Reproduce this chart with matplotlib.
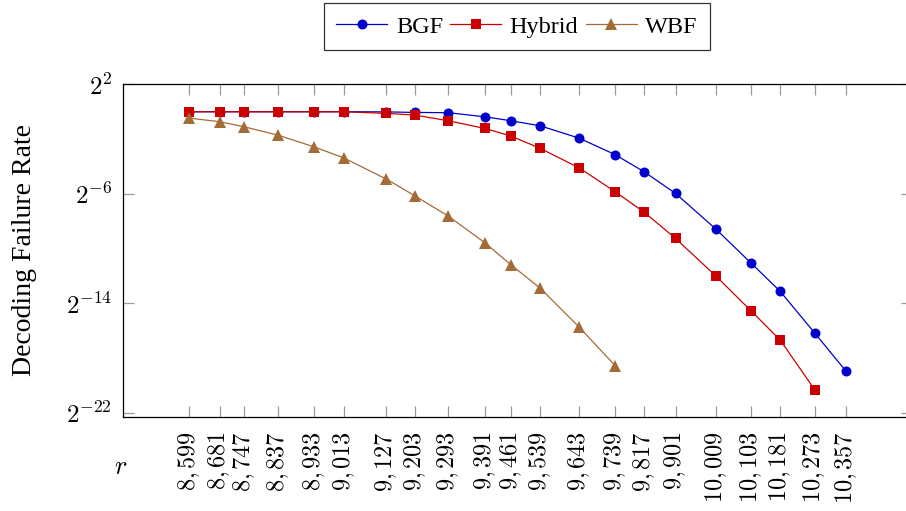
#!/usr/bin/env python3
"""
Decoding failure rate vs. r for BGF, Hybrid and WBF decoders.
Log2 y axis, rotated r tick labels, legend above the axes.

Output: out.png
"""

import numpy as np
import matplotlib
matplotlib.use("Agg")
import matplotlib.pyplot as plt


# r values (x ticks)
r_values = [8599, 8681, 8747, 8837, 8933, 9013, 9127, 9203, 9293, 9391, 9461,
            9539, 9643, 9739, 9817, 9901, 10009, 10103, 10181, 10273, 10357]

# log2 of the decoding failure rate
bgf_log2 = [0.0, 0.0, 0.0, 0.0, 0.0, 0.0, -0.01, -0.05, -0.07, -0.37, -0.66,
            -1.03, -1.93, -3.13, -4.39, -5.97, -8.58, -11.06, -13.13, -16.16, -18.96]
hybrid_log2 = [0.0, 0.0, 0.0, 0.0, 0.0, 0.0, -0.12, -0.24, -0.66, -1.22, -1.78,
               -2.68, -4.10, -5.84, -7.34, -9.26, -12.01, -14.55, -16.69, -20.30]
wbf_log2 = [-0.46, -0.73, -1.10, -1.71, -2.56, -3.37, -4.92, -6.14, -7.63, -9.58,
            -11.20, -12.90, -15.74, -18.55]

y_tick_exps = [2, -6, -14, -22]

BLUE = "#0000cc"
RED = "#cc0000"
BROWN = "#a36b35"
TICK_GRAY = "#9a9a9a"

plt.rcParams["mathtext.fontset"] = "cm"
SERIF = ["Liberation Serif", "DejaVu Serif"]

W, H = 906, 511
fig = plt.figure(figsize=(W / 100, H / 100), dpi=100, facecolor="white")

# axes box in pixels: left 123.3, right 911.7 (runs past the edge), top 83.7, bottom 417.3
ax_l, ax_r, ax_t, ax_b = 123.3, 911.7, 83.7, 417.3
ax = fig.add_axes([ax_l / W, 1 - ax_b / H, (ax_r - ax_l) / W, (ax_b - ax_t) / H])

n_h = len(hybrid_log2)
n_w = len(wbf_log2)

ax.plot(r_values, 2.0 ** np.array(bgf_log2), color=BLUE, lw=0.9,
        marker="o", markersize=7.2, markeredgewidth=0, label="BGF")
ax.plot(r_values[:n_h], 2.0 ** np.array(hybrid_log2), color=RED, lw=0.9,
        marker="s", markersize=7.8, markeredgewidth=0, label="Hybrid")
ax.plot(r_values[:n_w], 2.0 ** np.array(wbf_log2), color=BROWN, lw=0.9,
        marker="^", markersize=8.0, markeredgewidth=0, label="WBF")

ax.set_yscale("log", base=2)
span = r_values[-1] - r_values[0]
ax.set_xlim(r_values[0] - 0.1 * span, r_values[-1] + 0.1 * span)
ax.set_ylim(2.0 ** -22.33, 2.0 ** 2.05)

ax.set_xticks(r_values)
ax.set_xticklabels([f"${v // 1000}{{,}}\\,{v % 1000:03d}$" for v in r_values],
                   rotation=90, fontsize=17.5)
ax.set_yticks([2.0 ** e for e in y_tick_exps])
ax.set_yticklabels([f"$2^{{{e}}}$" for e in y_tick_exps], fontsize=18)
ax.minorticks_off()

ax.tick_params(axis="both", which="major", direction="in", length=8, width=0.9,
               color=TICK_GRAY, top=True, right=True)
ax.tick_params(axis="x", pad=10)
ax.tick_params(axis="y", pad=8)

for s in ax.spines.values():
    s.set_color("black")
    s.set_linewidth(0.9)

ax.set_ylabel("Decoding Failure Rate", fontsize=20, family=SERIF)
ax.yaxis.set_label_coords(-(ax_l - 37) / (ax_r - ax_l), 0.5)

fig.text(121 / W, 1 - 467 / H, "$r$", fontsize=19, ha="center", va="center")

leg = fig.legend(loc="center", bbox_to_anchor=(517 / W, 1 - 26.5 / H), ncol=3,
                 prop={"family": SERIF, "size": 17.5}, frameon=True, fancybox=False,
                 handlelength=2.1, handletextpad=0.35, columnspacing=0.3,
                 borderpad=0.5, borderaxespad=0)
leg.get_frame().set_edgecolor("black")
leg.get_frame().set_linewidth(0.9)

fig.savefig("out.png", dpi=100, facecolor="white")
plt.close(fig)
